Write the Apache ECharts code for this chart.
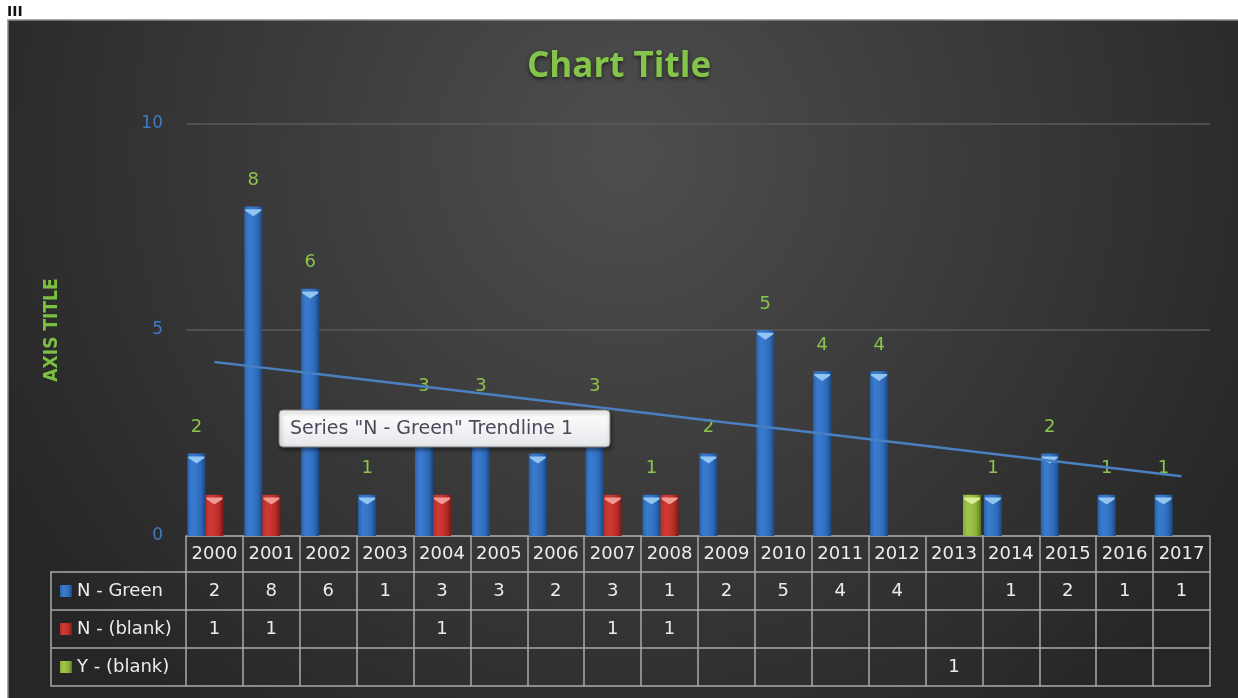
<!DOCTYPE html>
<html>
<head>
<meta charset="utf-8">
<script src="https://cdn.jsdelivr.net/npm/echarts@6/dist/echarts.min.js"></script>
<style>
  html, body { margin: 0; padding: 0; background: #fff; }
  #chart { width: 1238px; height: 698px; }
</style>
</head>
<body>
<div id="chart"></div>
<script>
// values
const years = ['2000', '2001', '2002', '2003', '2004', '2005', '2006', '2007', '2008',
  '2009', '2010', '2011', '2012', '2013', '2014', '2015', '2016', '2017'];
const nGreen = [2, 8, 6, 1, 3, 3, 2, 3, 1, 2, 5, 4, 4, null, 1, 2, 1, 1];
const nBlank = [1, 1, null, null, 1, null, null, 1, 1, null, null, null, null, null, null, null, null, null];
const yBlank = [null, null, null, null, null, null, null, null, null, null, null, null, null, 1, null, null, null, null];
const seriesNames = ['N - Green', 'N - (blank)', 'Y - (blank)'];
const yMin = 0;
const yMax = 10;
const yStep = 5;

// linear trendline like Excel (x = 1..n, blanks skipped)
function trendline(values) {
  const pts = [];
  values.forEach((v, i) => { if (v != null) pts.push([i + 1, v]); });
  const n = pts.length;
  let sx = 0, sy = 0, sxy = 0, sxx = 0;
  pts.forEach(p => { sx += p[0]; sy += p[1]; sxy += p[0] * p[1]; sxx += p[0] * p[0]; });
  const b = (n * sxy - sx * sy) / (n * sxx - sx * sx);
  const a = (sy - b * sx) / n;
  return values.map((v, i) => +(a + b * (i + 1)).toFixed(4));
}

const tableLine = '#a9a9a9';
const tableText = '#ececec';
const labelGreen = '#8cc44e';
const font = 'DejaVu Sans';

function hGrad(stops) {
  return {
    type: 'linear', x: 0, y: 0, x2: 1, y2: 0,
    colorStops: stops.map((c, i) => ({ offset: i / (stops.length - 1), color: c }))
  };
}

const barColors = [
  hGrad(['#2a63ad', '#3a7bcf', '#3676c8', '#2d69b7', '#1b4781']),
  hGrad(['#b32c27', '#cf3a34', '#c9352f', '#b52c27', '#7b1916']),
  hGrad(['#88ad36', '#a2c549', '#9bbf43', '#8aae38', '#5c771b'])
];
const capColors = ['#93c5f1', '#f09a96', '#dcee9a'];

// one table row = one extra category axis under the grid
function tableAxis(row, offset, tickLen, showLabel) {
  return {
    type: 'category',
    gridIndex: 0,
    position: 'bottom',
    offset: offset,
    data: years,
    axisLine: { show: true, lineStyle: { color: tableLine, width: 1.5 } },
    axisTick: { show: tickLen > 0, interval: 0, length: tickLen, lineStyle: { color: tableLine, width: 1.5 } },
    axisLabel: {
      show: showLabel,
      interval: 0,
      margin: tickLen / 2,
      verticalAlign: 'middle',
      color: tableText,
      fontSize: 18,
      fontFamily: font,
      formatter: (val, idx) => row ? (row[idx] == null ? '' : String(row[idx])) : val
    },
    splitLine: { show: false }
  };
}

function legendRow(name, top) {
  return {
    data: [name],
    left: 60,
    top: top,
    padding: 0,
    icon: 'rect',
    itemWidth: 12,
    itemHeight: 12,
    selectedMode: false,
    textStyle: { color: tableText, fontSize: 18, fontFamily: font }
  };
}

const chart = echarts.init(document.getElementById('chart'));

const option = {
  backgroundColor: '#ffffff',
  animation: false,
  title: {
    text: 'Chart Title',
    left: 'center',
    top: 45,
    textStyle: {
      color: '#84c44a',
      fontSize: 35,
      fontWeight: 'bold',
      fontFamily: 'Open Sans',
      textShadowColor: 'rgba(0,0,0,0.6)',
      textShadowBlur: 4,
      textShadowOffsetY: 2
    }
  },
  legend: [
    legendRow(seriesNames[0], 582),
    legendRow(seriesNames[1], 620),
    legendRow(seriesNames[2], 658)
  ],
  grid: { left: 186, right: 28, top: 124, bottom: 162 },
  xAxis: [
    tableAxis(null, 0, 36, true),
    tableAxis(nGreen, 36, 38, true),
    tableAxis(nBlank, 74, 38, true),
    tableAxis(yBlank, 112, 38, true),
    tableAxis(null, 150, 0, false)
  ],
  yAxis: {
    type: 'value',
    min: yMin,
    max: yMax,
    interval: yStep,
    name: 'AXIS TITLE',
    nameLocation: 'middle',
    nameRotate: 90,
    nameGap: 124,
    nameTextStyle: {
      color: '#7cc043',
      fontSize: 19,
      fontWeight: 'bold',
      fontFamily: 'Liberation Sans Narrow, DejaVu Sans Condensed, sans-serif'
    },
    axisLine: { show: false },
    axisTick: { show: false },
    axisLabel: { color: '#3f7bc2', fontSize: 17, fontFamily: font, margin: 23 },
    splitLine: { lineStyle: { color: '#5a5a5a', width: 1.5 } }
  },
  series: [
    {
      name: seriesNames[0], type: 'bar', data: nGreen,
      barWidth: 18, barGap: '0%',
      itemStyle: { color: barColors[0] },
      label: { show: true, position: 'top', distance: 17, color: labelGreen, fontSize: 18, fontFamily: font }
    },
    {
      name: seriesNames[1], type: 'bar', data: nBlank,
      barWidth: 18, barGap: '0%',
      itemStyle: { color: barColors[1] }
    },
    {
      name: seriesNames[2], type: 'bar', data: yBlank,
      barWidth: 18, barGap: '0%',
      itemStyle: { color: barColors[2] }
    },
    ...[nGreen, nBlank, yBlank].map((d, i) => ({
      name: seriesNames[i], type: 'pictorialBar', data: d,
      barWidth: 18, barGap: '0%',
      symbol: 'path://M0,0 L20,0 L20,2 L10,9 L0,2 Z',
      symbolSize: [16, 7],
      symbolPosition: 'end',
      symbolOffset: [0, '40%'],
      itemStyle: { color: capColors[i] },
      z: 3
    })),
    {
      name: 'Trendline', type: 'line', data: trendline(nGreen),
      symbol: 'none',
      lineStyle: { color: '#4a7fc0', width: 2.5 },
      z: 4
    }
  ],
  graphic: [
    {
      type: 'rect', z: -100, silent: true,
      shape: { x: 8, y: 20, width: 1232, height: 680 },
      style: {
        fill: {
          type: 'radial', x: 0.5, y: 0.2, r: 1.05,
          colorStops: [{ offset: 0, color: '#4e4e4e' }, { offset: 1, color: '#262626' }]
        },
        stroke: '#8a8a8a', lineWidth: 1.5
      }
    },
    {
      type: 'text', left: 7, top: 5, silent: true,
      style: { text: 'III', fill: '#111', fontSize: 14, fontWeight: 'bold', fontFamily: font }
    },
    {
      type: 'polyline', silent: true, z: 10,
      shape: { points: [[186, 572], [51, 572], [51, 686], [186, 686]] },
      style: { stroke: tableLine, lineWidth: 1.5, fill: null }
    },
    {
      type: 'line', silent: true, z: 10,
      shape: { x1: 51, y1: 610, x2: 186, y2: 610 },
      style: { stroke: tableLine, lineWidth: 1.5 }
    },
    {
      type: 'line', silent: true, z: 10,
      shape: { x1: 51, y1: 648, x2: 186, y2: 648 },
      style: { stroke: tableLine, lineWidth: 1.5 }
    },
    {
      type: 'rect', silent: true, z: 100,
      shape: { x: 279, y: 410, width: 331, height: 37, r: 4 },
      style: {
        fill: {
          type: 'linear', x: 0, y: 0, x2: 0, y2: 1,
          colorStops: [{ offset: 0, color: '#ffffff' }, { offset: 1, color: '#e6e7ea' }]
        },
        stroke: '#7d7d7d', lineWidth: 1,
        shadowColor: 'rgba(0,0,0,0.5)', shadowBlur: 4, shadowOffsetX: 1, shadowOffsetY: 2
      }
    },
    {
      type: 'text', silent: true, z: 101, x: 290, y: 429,
      style: {
        text: 'Series "N - Green" Trendline 1',
        fill: '#4a4a5a', fontSize: 19, fontFamily: font,
        verticalAlign: 'middle'
      }
    }
  ]
};

option && chart.setOption(option);
</script>
</body>
</html>
